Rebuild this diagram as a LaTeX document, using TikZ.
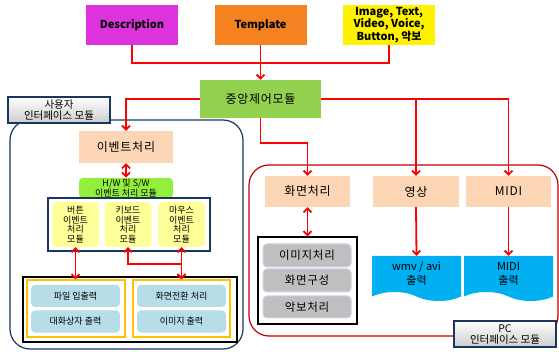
\documentclass[tikz,border=0pt]{standalone}
\usepackage{fontspec}
\setmainfont{Noto Sans CJK KR}
\newfontfamily\spacedkr[LetterSpace=6]{Noto Sans CJK KR}
\usetikzlibrary{arrows.meta,shapes.symbols}
\definecolor{descpink}{RGB}{221,51,221}
\definecolor{tmplorange}{RGB}{245,130,32}
\definecolor{ctrlgreen}{RGB}{146,208,80}
\definecolor{peach}{RGB}{252,213,181}
\definecolor{limegreen}{RGB}{146,240,60}
\definecolor{paleyellow}{RGB}{255,255,153}
\definecolor{paleblue}{RGB}{183,222,232}
\definecolor{docblue}{RGB}{0,176,240}
\definecolor{navy}{RGB}{23,55,94}
\definecolor{darkred}{RGB}{192,0,0}
\definecolor{frameorange}{RGB}{255,192,0}
\definecolor{graybox}{RGB}{191,191,191}
\definecolor{lavender}{RGB}{215,205,230}
\begin{document}
\begin{tikzpicture}[x=1pt, y=-1pt, box_style/.style={rectangle,inner sep=1pt,align=center,text=black},src_style/.style={box_style,minimum width=92pt,minimum height=40pt,font=\bfseries\fontsize{11}{12.5}\selectfont},ctrl_style/.style={box_style,fill=ctrlgreen,minimum width=121pt,minimum height=38pt,font=\spacedkr\fontsize{12}{14}\selectfont},proc_style/.style={box_style,fill=peach,minimum width=86pt,minimum height=31pt,font=\spacedkr\fontsize{12}{14}\selectfont},hwsw_style/.style={box_style,fill=limegreen,rounded corners=4pt,minimum width=94pt,minimum height=20pt,font=\fontsize{9}{10}\selectfont},event_style/.style={box_style,fill=paleyellow,rounded corners=5pt,minimum width=47pt,minimum height=45pt,font=\fontsize{9}{9.6}\selectfont},io_style/.style={box_style,fill=paleblue,rounded corners=4pt,minimum width=89pt,minimum height=22pt,font=\fontsize{9}{11}\selectfont},gray_style/.style={box_style,fill=graybox,draw=lavender,line width=1pt,rounded corners=4pt,minimum width=88pt,minimum height=23pt,font=\spacedkr\fontsize{11.5}{13}\selectfont},doc_style/.style={box_style,shape=tape,tape bend top=none,tape bend bottom=out and in,tape bend height=9pt,fill=docblue,minimum width=89pt,minimum height=45pt,font=\fontsize{11}{14}\selectfont},frame_style/.style={rectangle,draw=black,fill=white,line width=1.2pt,inner sep=0pt},panel_style/.style={rectangle,rounded corners=20pt,line width=1.2pt,inner sep=0pt},label_style/.style={box_style,draw=navy,line width=1.5pt,top color=white,bottom color=gray!40,minimum width=102pt,minimum height=26pt,font=\fontsize{10.5}{11}\selectfont},line_style/.style={draw=red,line width=1.8pt},arrow_style/.style={line_style,-{Straight Barb[length=4pt,width=8pt]}},twoway_style/.style={line_style,{Straight Barb[length=4pt,width=8pt]}-{Straight Barb[length=4pt,width=8pt]}}]
      \useasboundingbox (0,0) rectangle (559,352);
      \draw
        (126.5,234.5) node[panel_style,draw=navy,minimum width=233pt,minimum height=229pt] (userpanel){}
        (403.5,250.5) node[panel_style,draw=darkred,minimum width=309pt,minimum height=171pt] (pcpanel){}
        (59,110) node[label_style] (userlabel){사용자\\인터페이스 모듈}
        (505,334) node[label_style] (pclabel){PC\\인터페이스 모듈};
      \draw
        (132,25) node[src_style,fill=descpink] (desc){Description}
        (260.5,25) node[src_style,fill=tmplorange] (tmpl){Template}
        (389,25) node[src_style,fill=yellow] (media){Image, Text,\\Video, Voice,\\Button, 악보}
        (260.5,99) node[ctrl_style] (ctrl){중앙제어모듈}
        (126,147) node[proc_style,minimum width=94pt,minimum height=32pt] (evt){이벤트처리}
        (126,188) node[hwsw_style] (hwsw){H/W 및 S/W\\이벤트 처리 모듈}
        (129,224.5) node[frame_style,draw=navy,minimum width=162pt,minimum height=53pt] (evtframe){}
        (75.5,224.5) node[event_style] (btn){버튼\\이벤트\\처리\\모듈}
        (128,224.5) node[event_style] (kbd){키보드\\이벤트\\처리\\모듈}
        (181.5,224.5) node[event_style] (mouse){마우스\\이벤트\\처리\\모듈}
        (130,309.5) node[frame_style,minimum width=214pt,minimum height=65pt] (ioframe){}
        (76,308.5) node[frame_style,draw=frameorange,minimum width=98pt,minimum height=57pt] (fileio){}
        (181.5,308.5) node[frame_style,draw=frameorange,minimum width=97pt,minimum height=57pt] (screenio){}
        (75.5,296) node[io_style] (fileinout){파일 입출력}
        (75.5,321.5) node[io_style] (dialogout){대화상자 출력}
        (181.5,296) node[io_style] (switchproc){화면전환 처리}
        (181.5,321.5) node[io_style] (imageout){이미지 출력};
      \draw
        (307.5,191.5) node[proc_style,minimum width=85pt] (scr){화면처리}
        (416,191.5) node[proc_style] (video){영상}
        (508.5,191.5) node[proc_style,minimum width=85pt] (midi){MIDI}
        (307.5,280.5) node[frame_style,minimum width=99pt,minimum height=87pt] (scrframe){}
        (307,255.5) node[gray_style] (imgproc){이미지처리}
        (307,280.5) node[gray_style] (layout){화면구성}
        (307,307) node[gray_style,minimum height=22pt] (scoreproc){악보처리}
        (416.5,274) node[doc_style] (wmv){wmv / avi\\출력}
        (508.5,274) node[doc_style] (midiout){MIDI\\출력};
      \coordinate (merge) at (260.5,63);
      \begin{scope}
        \draw[line_style] (desc.south) |- (merge) -| (media.south);
        \draw[arrow_style] (tmpl.south) -- (ctrl.north);
        \draw[arrow_style] (ctrl.west) -| (evt.north);
        \draw[arrow_style] (ctrl.south) -- ++(0,25) -| (scr.north);
        \draw[arrow_style] (ctrl.east) -| (video.north);
        \draw[arrow_style] (ctrl.east) -| (midi.north);
        \draw[arrow_style] (video.south) -- (wmv.north);
        \draw[arrow_style] (midi.south) -- (midiout.north);
        \draw[twoway_style] (scr.south) -- (scrframe.north);
        \draw[twoway_style] (evt.south) -- (hwsw.north);
        \draw[twoway_style] (btn.south) -- (btn.south |- fileio.north);
        \draw[twoway_style] (mouse.south) -- (screenio.north);
        \draw[twoway_style] (kbd.south) -- ++(0,17) -| (screenio.north);
      \end{scope}
    \end{tikzpicture}
\end{document}
